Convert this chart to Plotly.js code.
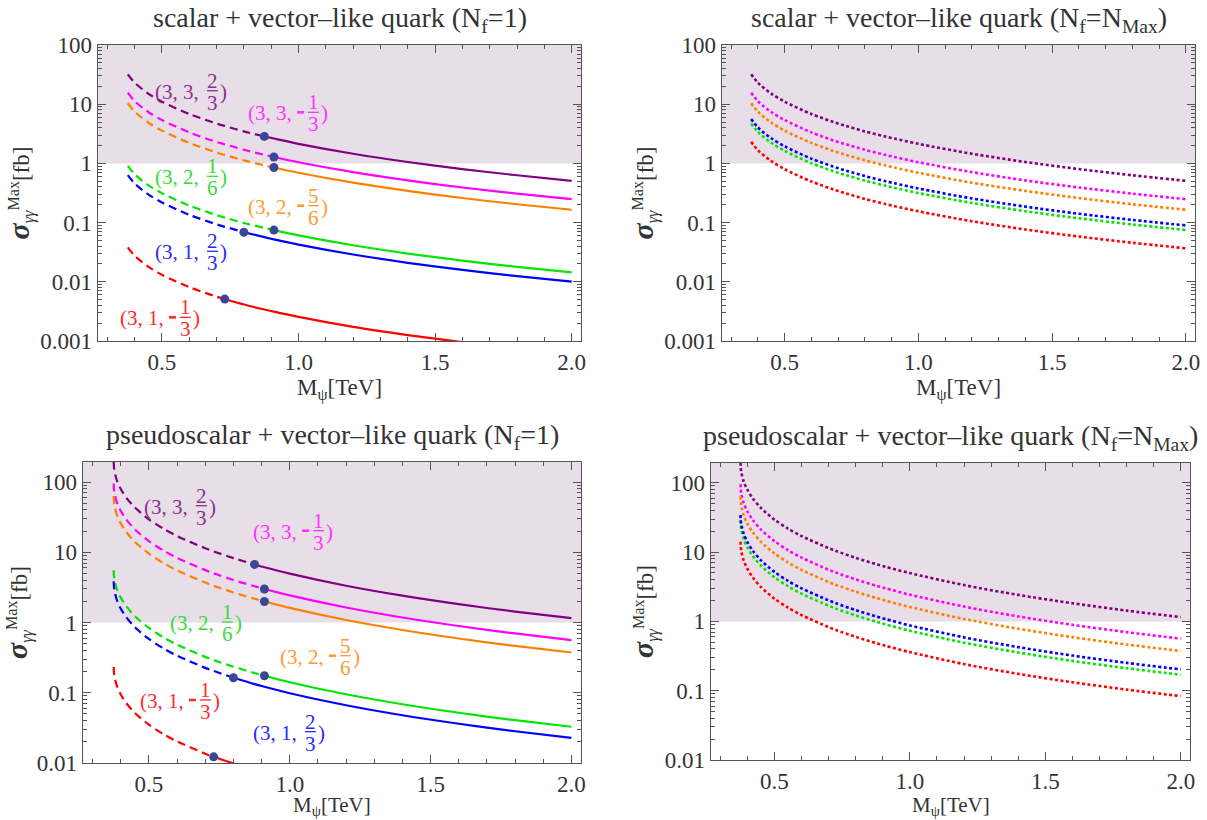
<!DOCTYPE html>
<html><head><meta charset="utf-8">
<script src="https://cdn.plot.ly/plotly-3.0.1.min.js"></script>
<style>html,body{margin:0;padding:0;background:#fff}</style>
</head><body><div id="chart" style="width:1207px;height:820px"></div>
<script>
// ---------- data ----------
const massScalar = [0.375,0.4,0.45,0.5,0.6,0.7,0.73,0.8,0.875,0.91,1.0,1.2,1.4,1.6,1.8,2.0];
const scalarPurple  = [32.0,23.1,15.12,11.04,6.83,4.71,4.29,3.47,2.86,2.63,2.14,1.456,1.056,0.802,0.630,0.508];
const scalarMagenta = [15.64,11.29,7.39,5.40,3.34,2.30,2.10,1.697,1.398,1.284,1.047,0.712,0.516,0.392,0.308,0.249];
const scalarOrange  = [10.38,7.49,4.91,3.58,2.22,1.529,1.392,1.126,0.928,0.852,0.695,0.472,0.343,0.260,0.204,0.165];
const scalarGreen1  = [0.910,0.657,0.430,0.314,0.194,0.134,0.1221,0.0987,0.0814,0.0747,0.0609,0.0414,0.0300,0.0228,0.0179,0.01446];
const scalarBlue1   = [0.634,0.458,0.300,0.219,0.1354,0.0934,0.0851,0.0688,0.0567,0.0520,0.0425,0.0289,0.0209,0.0159,0.01249,0.01008];
const scalarRed1    = [0.0381,0.0275,0.0180,0.01315,0.00814,0.00561,0.00511,0.00413,0.00341,0.00313,0.00255,0.00173,0.00126,0.000955,0.000751,0.000606];
const scalarGreenMax = [4.72,3.41,2.23,1.629,1.008,0.695,0.633,0.512,0.422,0.387,0.316,0.215,0.1558,0.1183,0.0930,0.0750];
const scalarBlueMax  = [5.63,4.06,2.66,1.943,1.202,0.829,0.755,0.611,0.503,0.462,0.377,0.256,0.186,0.141,0.1109,0.0895];
const scalarRedMax   = [2.32,1.673,1.095,0.800,0.495,0.341,0.311,0.251,0.207,0.190,0.155,0.1055,0.0765,0.0581,0.0456,0.0368];

const massPseudo = [0.375,0.3755,0.376,0.377,0.378,0.38,0.385,0.39,0.4,0.42,0.45,0.5,0.55,0.6,0.7,0.73,0.8,0.875,0.91,1.0,1.2,1.4,1.6,1.8,2.0];
const pseudoPurple  = [194.9,170.9,161.9,150.1,141.6,129.3,109.5,96.6,79.4,59.6,43.4,29.4,21.8,17.02,11.40,10.27,8.25,6.71,6.13,4.97,3.34,2.41,1.825,1.430,1.152];
const pseudoMagenta = [95.3,83.5,79.1,73.4,69.2,63.2,53.5,47.2,38.8,29.1,21.2,14.39,10.66,8.32,5.57,5.02,4.03,3.28,3.00,2.43,1.635,1.179,0.892,0.699,0.563];
const pseudoOrange  = [63.2,55.4,52.5,48.7,46.0,41.9,35.5,31.3,25.8,19.32,14.08,9.55,7.08,5.52,3.70,3.33,2.68,2.18,1.99,1.612,1.085,0.783,0.592,0.464,0.374];
const pseudoGreen1  = [5.54,4.86,4.60,4.27,4.03,3.68,3.12,2.75,2.26,1.694,1.234,0.837,0.620,0.484,0.324,0.292,0.235,0.1907,0.1745,0.1413,0.0951,0.0686,0.0519,0.0407,0.0328];
const pseudoBlue1   = [3.86,3.39,3.21,2.97,2.81,2.56,2.17,1.915,1.575,1.181,0.860,0.583,0.432,0.337,0.226,0.204,0.1635,0.1329,0.1216,0.0985,0.0663,0.0478,0.0362,0.0283,0.0228];
const pseudoRed1    = [0.232,0.204,0.193,0.179,0.169,0.154,0.1305,0.1151,0.0946,0.0709,0.0517,0.0351,0.0260,0.0203,0.01358,0.01224,0.00983,0.00799,0.00731,0.00592,0.00398,0.00287,0.00217,0.00170,0.00137];
const pseudoGreenMax = [28.8,25.2,23.9,22.1,20.9,19.07,16.16,14.25,11.72,8.79,6.40,4.34,3.22,2.51,1.682,1.516,1.217,0.989,0.905,0.733,0.493,0.356,0.269,0.211,0.170];
const pseudoBlueMax  = [34.3,30.1,28.5,26.4,24.9,22.8,19.28,17.00,13.98,10.48,7.64,5.18,3.84,3.00,2.01,1.808,1.452,1.180,1.080,0.874,0.588,0.425,0.321,0.252,0.203];
const pseudoRedMax   = [14.12,12.38,11.73,10.87,10.26,9.36,7.93,7.00,5.75,4.31,3.14,2.13,1.580,1.233,0.826,0.744,0.598,0.486,0.444,0.360,0.242,0.1747,0.1322,0.1036,0.0835];

// multiplets: (SU3, SU2, Y) and the mass bound marked by a dot
const labelPrefix = ['(3, 3,', '(3, 3,', '(3, 2,', '(3, 2,', '(3, 1,', '(3, 1,'];
const labelNeg    = [false, true, true, false, false, true];
const labelNum    = ['2','1','5','1','2','1'];
const labelDen    = ['3','3','6','6','3','3'];
const dotMass     = [0.875, 0.91, 0.91, 0.91, 0.80, 0.73];

const xTickVals = [0.5, 1.0, 1.5, 2.0];
const xTickText = ['0.5','1.0','1.5','2.0'];
const yTickValsTop = [0.001, 0.01, 0.1, 1, 10, 100];
const yTickTextTop = ['0.001','0.01','0.1','1','10','100'];
const yTickValsBot = [0.01, 0.1, 1, 10, 100];
const yTickTextBot = ['0.01','0.1','1','10','100'];

// ---------- styles ----------
const FONT = '"Liberation Serif", "DejaVu Serif", serif';
const TXT = '#333';
const colors = ['#800080', '#ff00ff', '#ff8000', '#00e600', '#0000ff', '#ff0000'];
const labelColors = ['#8d2f8d', '#ff33ff', '#ff9a33', '#33dd33', '#2a2aff', '#ff2a2a'];
const DOT = '#3c4696';
const SHADE = '#e8dee8';
const XTITLE = 'M<sub>\u03c8</sub>[TeV]';

const traces = [];
function addNf1(xs, series, xa, ya){
  series.forEach((ys, i) => {
    const d = dotMass[i];
    const dx=[], dy=[], sx=[], sy=[];
    xs.forEach((x, k) => {
      if (x <= d + 1e-9) { dx.push(x); dy.push(ys[k]); }
      if (x >= d - 1e-9) { sx.push(x); sy.push(ys[k]); }
    });
    traces.push({x:dx, y:dy, xaxis:xa, yaxis:ya, mode:'lines', hoverinfo:'skip',
      line:{color:colors[i], width:2.2, dash:'8px,5px', shape:'spline', smoothing:0.8}});
    traces.push({x:sx, y:sy, xaxis:xa, yaxis:ya, mode:'lines', hoverinfo:'skip',
      line:{color:colors[i], width:2.2, shape:'spline', smoothing:0.8}});
    const k = xs.indexOf(d);
    traces.push({x:[d], y:[ys[k]], xaxis:xa, yaxis:ya, mode:'markers', hoverinfo:'skip',
      marker:{color:DOT, size:9}, cliponaxis:false});
  });
}
function addMax(xs, series, xa, ya){
  series.forEach((ys, i) => {
    traces.push({x:xs, y:ys, xaxis:xa, yaxis:ya, mode:'lines', hoverinfo:'skip',
      line:{color:colors[i], width:2.6, dash:'3px,2.5px', shape:'spline', smoothing:0.8}});
  });
}
addNf1(massScalar, [scalarPurple, scalarMagenta, scalarOrange, scalarGreen1, scalarBlue1, scalarRed1], 'x', 'y');
addMax(massScalar, [scalarPurple, scalarMagenta, scalarOrange, scalarGreenMax, scalarBlueMax, scalarRedMax], 'x2', 'y2');
addNf1(massPseudo, [pseudoPurple, pseudoMagenta, pseudoOrange, pseudoGreen1, pseudoBlue1, pseudoRed1], 'x3', 'y3');
addMax(massPseudo, [pseudoPurple, pseudoMagenta, pseudoOrange, pseudoGreenMax, pseudoBlueMax, pseudoRedMax], 'x4', 'y4');

// ---------- axes ----------
const W = 1207, H = 820;
const XR = [0.266, 2.034];
function xAxis(px0, px1, anchor, withTitle){
  const ax = {domain:[px0/W, px1/W], anchor, range:XR, tickvals:xTickVals, ticktext:xTickText,
    ticks:'inside', ticklen:8, tickwidth:1, tickcolor:'#555', showline:true, linecolor:'#555', linewidth:1.4,
    mirror:'allticks', showgrid:false, zeroline:false, fixedrange:true,
    tickfont:{family:FONT, size:23, color:TXT},
    minor:{ticks:'inside', ticklen:4, tickwidth:1, tickcolor:'#555', dtick:0.1, tick0:0, showgrid:false}};
  if (withTitle) ax.title = {text:XTITLE, font:{family:FONT, size:23, color:TXT}, standoff:4};
  return ax;
}
function yAxis(py0, py1, anchor, rng, tv, tt){
  return {domain:[1-py1/H, 1-py0/H], anchor, type:'log', range:rng, tickvals:tv, ticktext:tt,
    ticks:'inside', ticklen:8, tickwidth:1, tickcolor:'#555', showline:true, linecolor:'#555', linewidth:1.4,
    mirror:'allticks', showgrid:false, zeroline:false, fixedrange:true,
    tickfont:{family:FONT, size:23, color:TXT},
    minor:{ticks:'inside', ticklen:4, tickwidth:1, tickcolor:'#555', dtick:'D1', showgrid:false},
    title:{text:'<b><i><span style="font-size:30px">\u03c3</span></i></b><sub><i>\u03b3\u03b3</i></sub><sup>Max</sup>[fb]',
      font:{family:FONT, size:23, color:TXT}, standoff:4}};
}
const RT = [-3, 2], RB = [-2, 2.285];
const layout = {
  width:W, height:H, autosize:false, margin:{l:0, r:0, t:0, b:0},
  paper_bgcolor:'#fff', plot_bgcolor:'#fff', showlegend:false,
  xaxis:  xAxis(98, 581, 'y', true),
  yaxis:  yAxis(45, 341, 'x', RT, yTickValsTop, yTickTextTop),
  xaxis2: xAxis(722, 1195, 'y2', true),
  yaxis2: yAxis(45, 341, 'x2', RT, yTickValsTop, yTickTextTop),
  xaxis3: xAxis(83, 581, 'y3', false),
  yaxis3: yAxis(462, 763, 'x3', RB, yTickValsBot, yTickTextBot),
  xaxis4: xAxis(711, 1190, 'y4', false),
  yaxis4: yAxis(463, 760, 'x4', RB, yTickValsBot, yTickTextBot),
  shapes: [], annotations: []
};

// bottom-row x titles placed just above the page bottom
['x3','x4'].forEach(xa => layout.annotations.push({xref:xa+' domain', yref:'paper', x:0.5, y:0,
  xanchor:'center', yanchor:'bottom', yshift:0, borderpad:0, showarrow:false, text:XTITLE,
  font:{family:FONT, size:21, color:TXT}}));

// shaded region sigma >= 1 fb
[['x','y',RT],['x2','y2',RT],['x3','y3',RB],['x4','y4',RB]].forEach(([xa,ya,r]) => {
  layout.shapes.push({type:'rect', xref:xa+' domain', yref:ya, x0:0, x1:1, y0:1, y1:Math.pow(10, r[1]),
    fillcolor:SHADE, line:{width:0}, layer:'below'});
});

// panel titles
const titles = [
  ['x','y','scalar + vector\u2013like quark (N<sub>f</sub>=1)'],
  ['x2','y2','scalar + vector\u2013like quark (N<sub>f</sub>=N<sub>Max</sub>)'],
  ['x3','y3','pseudoscalar + vector\u2013like quark (N<sub>f</sub>=1)'],
  ['x4','y4','pseudoscalar + vector\u2013like quark (N<sub>f</sub>=N<sub>Max</sub>)']
];
titles.forEach(([xa,ya,t]) => layout.annotations.push({xref:xa+' domain', yref:ya+' domain', x:0.5, y:1,
  xanchor:'center', yanchor:'bottom', yshift:6, showarrow:false, text:t, font:{family:FONT, size:28, color:TXT}}));

// multiplet labels: [x (TeV), log10(sigma)] of the fraction bar's left end
const labelPosTop = [[0.665,1.211],[1.035,0.846],[1.035,-0.731],[0.665,-0.235],[0.665,-1.502],[0.566,-2.617]];
const labelPosBot = [[0.667,1.649],[1.083,1.293],[1.178,-0.487],[0.759,-0.007],[1.054,-1.568],[0.681,-1.117]];
function addLabels(xa, ya, pos){
  pos.forEach(([lx, ly], i) => {
    const f = {family:FONT, size:21, color:labelColors[i]};
    const base = {xref:xa, yref:ya, x:lx, y:ly, yanchor:'middle', showarrow:false, font:f};
    layout.annotations.push(Object.assign({}, base, {xanchor:'right', xshift: labelNeg[i] ? -14 : -6, text:labelPrefix[i]}));
    if (labelNeg[i]) {
      layout.shapes.push({type:'line', xref:xa, yref:ya, xsizemode:'pixel', xanchor:lx, x0:-11, x1:-4,
        ysizemode:'pixel', yanchor:Math.pow(10, ly), y0:1, y1:1, line:{color:labelColors[i], width:2.6}});
    }
    layout.annotations.push(Object.assign({}, base, {xanchor:'center', xshift:5.5, yshift:11, text:labelNum[i]}));
    layout.annotations.push(Object.assign({}, base, {xanchor:'center', xshift:5.5, yshift:-11, text:labelDen[i]}));
    layout.annotations.push(Object.assign({}, base, {xanchor:'left', xshift:11, text:')'}));
    layout.shapes.push({type:'line', xref:xa, yref:ya, xsizemode:'pixel', xanchor:lx, x0:0, x1:11,
      ysizemode:'pixel', yanchor:Math.pow(10, ly), y0:1, y1:1, line:{color:labelColors[i], width:1.3}});
  });
}
addLabels('x','y', labelPosTop);
addLabels('x3','y3', labelPosBot);

Plotly.newPlot('chart', traces, layout, {displayModeBar:false, staticPlot:true});
</script></body></html>
